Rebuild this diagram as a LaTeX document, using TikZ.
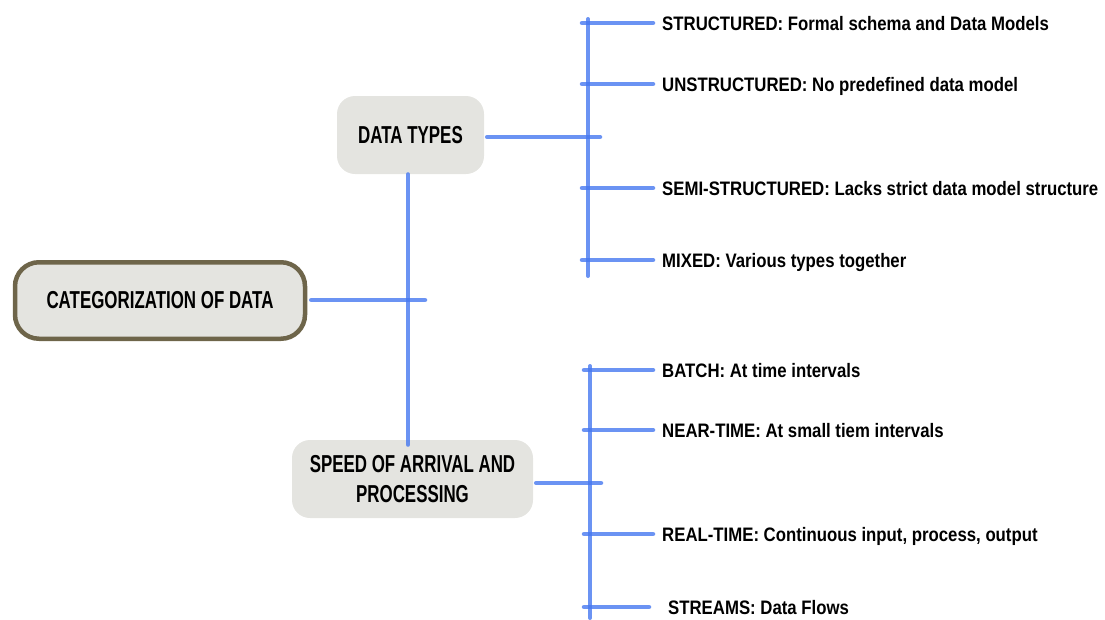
\documentclass[tikz,border=0pt]{standalone}
\usepackage{fontspec}
\newfontfamily\leaffont[FakeStretch=0.86]{Liberation Sans}
\newfontfamily\boxfont[FakeStretch=0.69]{Liberation Sans}
\definecolor{branchblue}{RGB}{70,120,240}
\definecolor{boxgray}{RGB}{228,228,224}
\definecolor{rootrim}{RGB}{110,101,74}

\begin{document}
\begin{tikzpicture}[x=1pt,y=-1pt,
  link/.style={draw=branchblue, line width=4.5pt, line cap=round, draw opacity=0.8},
  spine/.style={draw=branchblue, line width=4pt, line cap=round, draw opacity=0.8},
  rootbox/.style={draw=rootrim, line width=4.5pt, fill=boxgray, rounded corners=24pt,
    minimum width=290pt, minimum height=76.5pt, inner sep=0pt,
    font=\boxfont\bfseries\fontsize{24.5}{30.7}\selectfont},
  catbox/.style={fill=boxgray, rounded corners=18pt, inner sep=0pt, align=center,
    font=\boxfont\bfseries\fontsize{24.5}{30.7}\selectfont},
  leaf/.style={anchor=west, inner xsep=6pt, inner ysep=0pt, text height=14pt, text depth=0pt,
    font=\leaffont\bfseries\fontsize{19.5}{22}\selectfont}
]
\useasboundingbox (0,0) rectangle (1105,619);

% main categories
\node[rootbox] (root) at (160,300.5) {CATEGORIZATION OF DATA};
\node[catbox, minimum width=147pt, minimum height=78pt] (types) at (410.5,135) {DATA TYPES};
\node[catbox, minimum width=241pt, minimum height=78pt] (speed) at (412.5,479)
  {SPEED OF ARRIVAL AND\\PROCESSING};

% junction points
\coordinate (hub) at (408,300);
\coordinate (uhub) at (600,137);
\coordinate (lhub) at (601,483);
\coordinate (utop) at (588,19);
\coordinate (ubot) at (588,276);
\coordinate (ltop) at (590,366);
\coordinate (lbot) at (590,618);

% trunk joining the two categories, and the root link
\draw[spine] (hub |- types.south) -- ([yshift=-5pt]hub |- speed.north);
\draw[link, shorten <=4pt] (root.east |- hub) -- ([xshift=17pt]hub);

% data types branch
\draw[link, shorten <=3pt] (types.east |- uhub) -- (uhub);
\draw[spine] (utop) -- (ubot);
\node[leaf] (st) at (656,23) {STRUCTURED: Formal schema and Data Models};
\node[leaf] (un) at (656,84) {UNSTRUCTURED: No predefined data model};
\node[leaf] (se) at (656,188) {SEMI-STRUCTURED: Lacks strict data model structure};
\node[leaf] (mx) at (656,260) {MIXED: Various types together};
\foreach \n in {st,un,se,mx}
  \draw[link, shorten >=3pt] ([xshift=-6pt]utop |- \n.west) -- (\n.west);

% speed branch
\draw[link, shorten <=3pt] (speed.east |- lhub) -- (lhub);
\draw[spine] (ltop) -- (lbot);
\node[leaf] (ba) at (656,370) {BATCH: At time intervals};
\node[leaf] (nt) at (656,430) {NEAR-TIME: At small tiem intervals};
\node[leaf] (rt) at (656,534) {REAL-TIME: Continuous input, process, output};
\node[leaf, inner xsep=11pt] (sm) at (657,607) {STREAMS: Data Flows};
\foreach \n in {ba,nt,rt}
  \draw[link, shorten >=3pt] ([xshift=-6pt]ltop |- \n.west) -- (\n.west);
\draw[link, shorten >=8pt] ([xshift=-6pt]ltop |- sm.west) -- (sm.west);
\end{tikzpicture}
\end{document}
